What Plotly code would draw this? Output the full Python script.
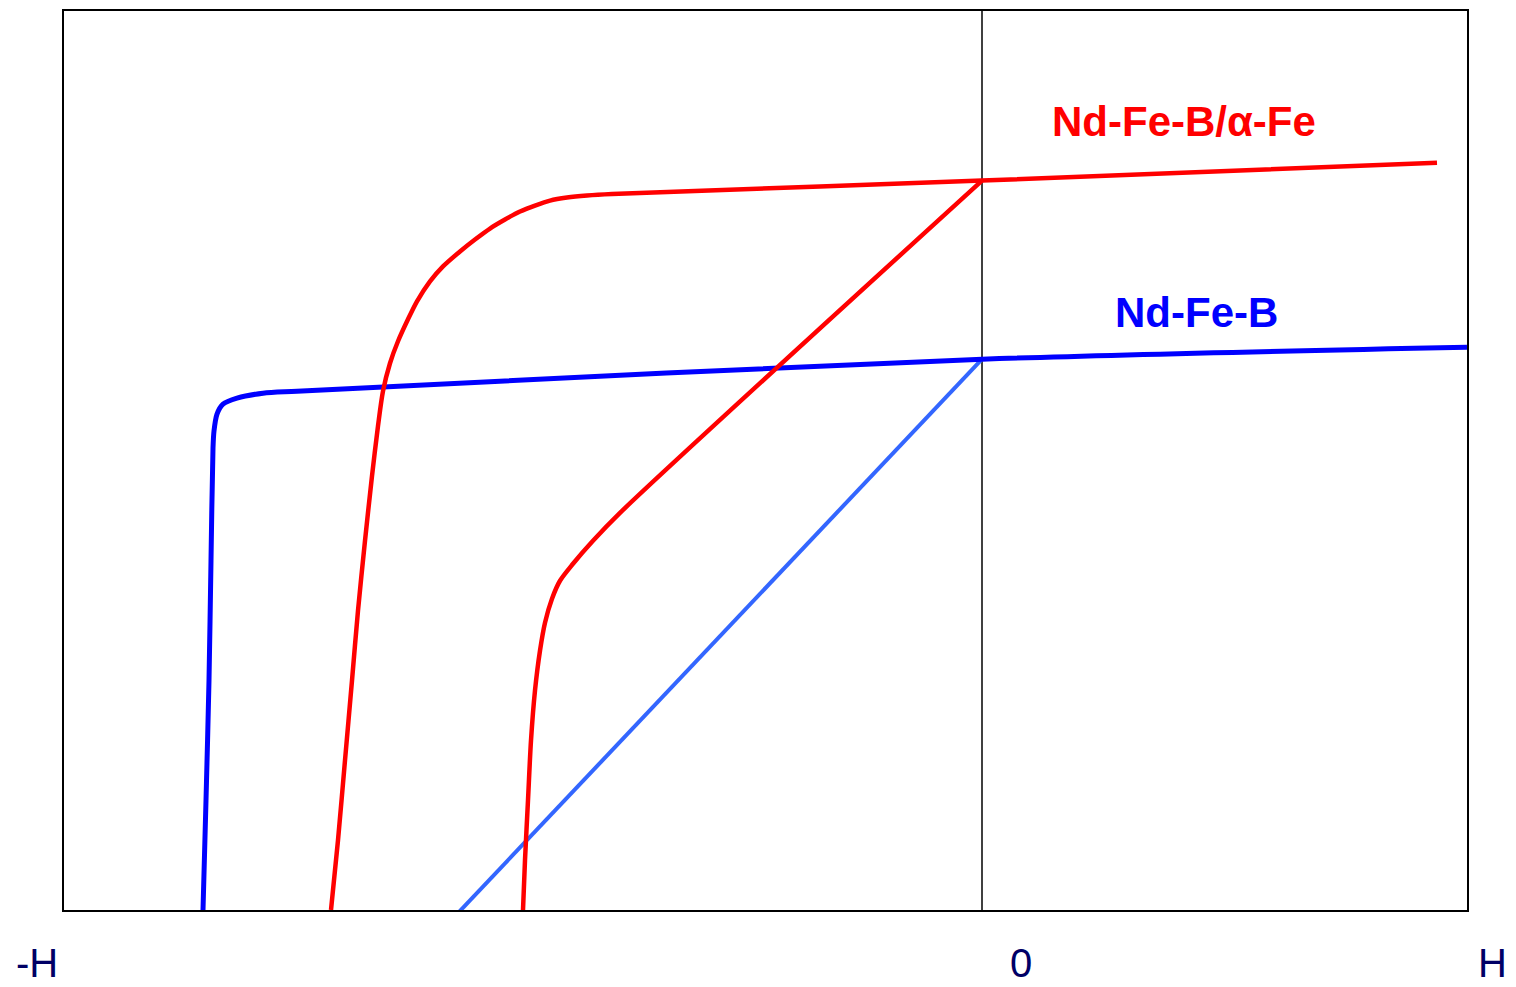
import plotly.graph_objects as go

# Field H (arbitrary units, 0 at the vertical axis) and magnetization (arbitrary units)
red_outer_x = [-651, -644, -637, -630, -624, -617, -610, -604, -599, -592, -584, -574, -565,
               -552, -539, -522, -507, -492, -477, -462, -447, -432, -415, -395, -370, 0, 455]
red_outer_y = [0, 70, 150, 230, 300, 370, 435, 485, 520, 548, 570, 592, 610,
               630, 645, 660, 672, 683, 692, 700, 706, 711, 714, 716, 717.5, 731, 749]

red_inner_x = [-459, -457, -454, -451, -447, -442, -437, -430, -422, -409, -389, -362, 0]
red_inner_y = [0, 50, 110, 170, 220, 260, 288, 312, 330, 347, 370, 398, 731]

blue_x = [-779, -776, -773, -771, -769, -768, -765, -759, -745, -719, -685, 0, 485]
blue_y = [0, 110, 230, 350, 463, 480, 497, 507, 513, 518, 520, 552, 564]

blue_recoil_x = [-523, 0]
blue_recoil_y = [-2, 552]

tick_labels = ["-H", "0", "H"]
series_names = ["Nd-Fe-B/α-Fe", "Nd-Fe-B"]

X_MIN, X_MAX = -918, 485

fig = go.Figure()
fig.add_trace(go.Scatter(x=blue_recoil_x, y=blue_recoil_y, mode="lines",
                         line=dict(color="#3366FF", width=4), showlegend=False, hoverinfo="skip"))
fig.add_trace(go.Scatter(x=blue_x, y=blue_y, mode="lines",
                         line=dict(color="#0000FF", width=5, shape="spline", smoothing=0.8),
                         showlegend=False, hoverinfo="skip"))
fig.add_trace(go.Scatter(x=red_outer_x, y=red_outer_y, mode="lines",
                         line=dict(color="#FF0000", width=4.5, shape="spline", smoothing=0.8),
                         showlegend=False, hoverinfo="skip"))
fig.add_trace(go.Scatter(x=red_inner_x, y=red_inner_y, mode="lines",
                         line=dict(color="#FF0000", width=4.5, shape="spline", smoothing=0.8),
                         showlegend=False, hoverinfo="skip"))

# vertical axis line at H = 0
fig.add_shape(type="line", x0=0, x1=0, y0=0, y1=1, xref="x", yref="paper",
              line=dict(color="black", width=1.5), layer="below")


def to_paper(xv):
    return (xv - X_MIN) / (X_MAX - X_MIN)


label_font = dict(family="Liberation Sans, Arial, sans-serif", size=40, color="#000066")
for lab, xpos in zip(tick_labels, [-945, 39, 510]):
    fig.add_annotation(x=to_paper(xpos), y=-0.0588, xref="paper", yref="paper", text=lab,
                       showarrow=False, font=label_font, xanchor="center", yanchor="middle")

fig.add_annotation(x=202, y=790, xref="x", yref="y", text="<b>" + series_names[0] + "</b>",
                   showarrow=False, xanchor="center", yanchor="middle",
                   font=dict(family="Liberation Sans, Arial, sans-serif", size=42, color="#FF0000"))
fig.add_annotation(x=214, y=599, xref="x", yref="y", text="<b>" + series_names[1] + "</b>",
                   showarrow=False, xanchor="center", yanchor="middle",
                   font=dict(family="Liberation Sans, Arial, sans-serif", size=42, color="#0000FF"))

fig.update_layout(
    width=1516, height=987,
    margin=dict(l=64, r=49, t=9, b=77),
    paper_bgcolor="white", plot_bgcolor="white",
    showlegend=False,
    hovermode=False,
    xaxis=dict(range=[X_MIN, X_MAX], showgrid=False, zeroline=False, showticklabels=False,
               ticks="", showline=True, linecolor="black", linewidth=2, mirror=True),
    yaxis=dict(range=[0, 901], showgrid=False, zeroline=False, showticklabels=False,
               ticks="", showline=True, linecolor="black", linewidth=2, mirror=True),
)

fig.write_html("out.html", config={"displayModeBar": False},
               post_script="document.body.style.margin='0';document.body.style.overflow='hidden';")
